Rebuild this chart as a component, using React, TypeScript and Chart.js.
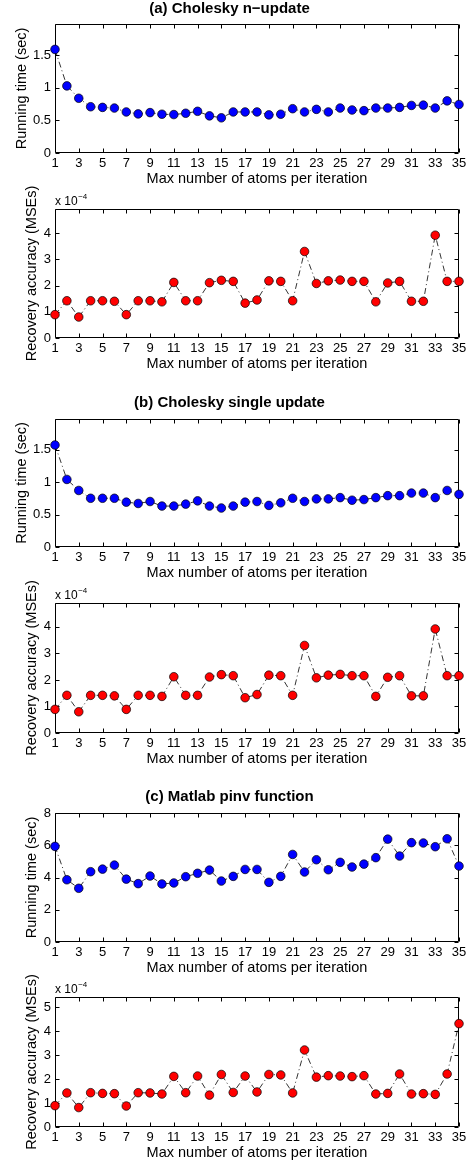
import React, { useEffect, useRef } from 'react';
import { Chart, registerables } from 'chart.js';

Chart.register(...registerables);

const FONT = '"Liberation Sans", Arial, Helvetica, sans-serif';

// ---------- data ----------
const atoms = [1, 2, 3, 4, 5, 6, 7, 8, 9, 10, 11, 12, 13, 14, 15, 16, 17, 18, 19, 20, 21, 22, 23, 24, 25, 26, 27, 28, 29, 30, 31, 32, 33, 34, 35];
const xTickValues = [1, 3, 5, 7, 9, 11, 13, 15, 17, 19, 21, 23, 25, 27, 29, 31, 33, 35];

const timeCholeskyN = [1.59, 1.03, 0.84, 0.71, 0.70, 0.69, 0.63, 0.60, 0.62, 0.595, 0.59, 0.61, 0.64, 0.57, 0.54, 0.63, 0.63, 0.63, 0.585, 0.595, 0.68, 0.63, 0.67, 0.63, 0.69, 0.66, 0.65, 0.69, 0.69, 0.70, 0.73, 0.735, 0.69, 0.80, 0.745];
const mseCholeskyN = [0.89, 1.42, 0.80, 1.42, 1.42, 1.40, 0.89, 1.42, 1.42, 1.38, 2.12, 1.42, 1.42, 2.11, 2.20, 2.16, 1.33, 1.45, 2.18, 2.16, 1.42, 3.30, 2.08, 2.18, 2.21, 2.16, 2.16, 1.38, 2.10, 2.16, 1.40, 1.40, 3.92, 2.16, 2.16];

const timeCholeskySingle = [1.57, 1.04, 0.87, 0.75, 0.75, 0.75, 0.69, 0.67, 0.70, 0.63, 0.63, 0.66, 0.71, 0.63, 0.60, 0.63, 0.69, 0.70, 0.64, 0.68, 0.75, 0.70, 0.74, 0.74, 0.76, 0.72, 0.73, 0.76, 0.79, 0.79, 0.83, 0.83, 0.76, 0.87, 0.81];
const mseCholeskySingle = [0.89, 1.42, 0.80, 1.42, 1.42, 1.40, 0.89, 1.42, 1.42, 1.38, 2.12, 1.42, 1.42, 2.11, 2.20, 2.16, 1.33, 1.45, 2.18, 2.16, 1.42, 3.30, 2.08, 2.18, 2.21, 2.16, 2.16, 1.38, 2.10, 2.16, 1.40, 1.40, 3.92, 2.16, 2.16];

const timePinv = [5.93, 3.86, 3.33, 4.36, 4.52, 4.77, 3.90, 3.62, 4.09, 3.60, 3.66, 4.05, 4.26, 4.46, 3.78, 4.07, 4.50, 4.50, 3.70, 4.07, 5.43, 4.34, 5.10, 4.48, 4.94, 4.65, 4.83, 5.23, 6.38, 5.33, 6.16, 6.14, 5.91, 6.40, 4.71];
const msePinv = [0.89, 1.42, 0.81, 1.43, 1.40, 1.39, 0.875, 1.43, 1.42, 1.375, 2.11, 1.43, 2.125, 1.33, 2.19, 1.44, 2.125, 1.46, 2.19, 2.17, 1.42, 3.21, 2.08, 2.14, 2.125, 2.10, 2.14, 1.375, 1.40, 2.21, 1.375, 1.39, 1.36, 2.21, 4.31];

const timeTicksCholesky = [0, 0.5, 1, 1.5];
const timeTicksPinv = [0, 2, 4, 6, 8];
const mseTicks = [0, 1, 2, 3, 4];
const mseTicksPinv = [0, 1, 2, 3, 4, 5];

const titles = ['(a) Cholesky n\u2212update', '(b) Cholesky single update', '(c) Matlab pinv function'];
const xLabel = 'Max number of atoms per iteration';
const yLabelTime = 'Running time (sec)';
const yLabelMse = 'Recovery accuracy (MSEs)';
const exponentBase = 'x 10';
const exponentPower = '\u22124';

// ---------- layout ----------
const W = 473;
const BOX_LEFT = 55;
const BOX_RIGHT = 459;
const X_AREA = 36;
const TOP_ROOM = 40;

type Spec = {
  top: number;
  bottom: number;
  titleY?: number;
  title?: string;
  yLabel: string;
  yMax: number;
  yTicks: number[];
  values: number[];
  color: string;
  exponent?: boolean;
  yTitleX: number;
};

const specs: Spec[] = [
  { top: 24, bottom: 153, titleY: 9, title: titles[0], yLabel: yLabelTime, yMax: 1.98, yTicks: timeTicksCholesky, values: timeCholeskyN, color: '#0000ff', yTitleX: 21.5 },
  { top: 209, bottom: 338, yLabel: yLabelMse, yMax: 4.92, yTicks: mseTicks, values: mseCholeskyN, color: '#ff0000', exponent: true, yTitleX: 31.5 },
  { top: 419, bottom: 547, titleY: 403, title: titles[1], yLabel: yLabelTime, yMax: 1.97, yTicks: timeTicksCholesky, values: timeCholeskySingle, color: '#0000ff', yTitleX: 21.5 },
  { top: 603, bottom: 733, yLabel: yLabelMse, yMax: 4.9, yTicks: mseTicks, values: mseCholeskySingle, color: '#ff0000', exponent: true, yTitleX: 31.5 },
  { top: 813, bottom: 942, titleY: 797, title: titles[2], yLabel: yLabelTime, yMax: 8, yTicks: timeTicksPinv, values: timePinv, color: '#0000ff', yTitleX: 31.5 },
  { top: 997, bottom: 1127, yLabel: yLabelMse, yMax: 5.42, yTicks: mseTicksPinv, values: msePinv, color: '#ff0000', exponent: true, yTitleX: 31.5 },
];

const boxPlugin = {
  id: 'matlabBox',
  beforeDatasetsDraw(chart: any) {
    const { ctx, chartArea } = chart;
    const xs = chart.scales.x;
    const ys = chart.scales.y;
    const L = Math.round(chartArea.left) + 0.5;
    const R = Math.round(chartArea.right) - 0.5;
    const T = Math.round(chartArea.top) + 0.5;
    const B = Math.round(chartArea.bottom) - 0.5;
    const tl = 4;
    ctx.save();
    ctx.strokeStyle = '#000';
    ctx.lineWidth = 1;
    ctx.beginPath();
    ctx.rect(L, T, R - L, B - T);
    xs.ticks.forEach((t: any) => {
      const px = Math.round(xs.getPixelForValue(t.value)) + 0.5;
      ctx.moveTo(px, B);
      ctx.lineTo(px, B - tl);
      ctx.moveTo(px, T);
      ctx.lineTo(px, T + tl);
    });
    ys.ticks.forEach((t: any) => {
      const py = Math.round(ys.getPixelForValue(t.value)) + 0.5;
      ctx.moveTo(L, py);
      ctx.lineTo(L + tl, py);
      ctx.moveTo(R, py);
      ctx.lineTo(R - tl, py);
    });
    ctx.stroke();
    ctx.restore();
  },
  afterDraw(chart: any) {
    const opts = chart.options.plugins.matlabBox;
    if (!opts || !opts.exponent) return;
    const { ctx, chartArea } = chart;
    ctx.save();
    ctx.fillStyle = '#000';
    ctx.textBaseline = 'alphabetic';
    ctx.textAlign = 'left';
    ctx.font = `12px ${FONT}`;
    const x0 = chartArea.left;
    const base = chartArea.top - 4;
    ctx.fillText(exponentBase, x0, base);
    const w = ctx.measureText(exponentBase).width;
    ctx.font = `8px ${FONT}`;
    ctx.fillText(exponentPower, x0 + w + 0.5, base - 6);
    ctx.restore();
  },
};

function Panel({ spec }: { spec: Spec }) {
  const ref = useRef<HTMLCanvasElement>(null);
  const canvasTop = Math.max(0, spec.top - TOP_ROOM);
  const height = spec.bottom + X_AREA - canvasTop;

  useEffect(() => {
    if (!ref.current) return;
    const boxTop = spec.top - canvasTop;
    let layoutTop = boxTop;
    let titleOpts: any = { display: false };
    if (spec.title && spec.titleY !== undefined) {
      const lh = 18;
      const center = spec.titleY - canvasTop;
      const padTop = center - lh / 2;
      const padBottom = boxTop - padTop - lh;
      layoutTop = 0;
      titleOpts = {
        display: true,
        text: spec.title,
        color: '#000',
        font: { family: FONT, size: 15, weight: 'bold', lineHeight: 1.2 },
        padding: { top: padTop, bottom: padBottom },
      };
    }
    const tickFont = { family: FONT, size: 13, lineHeight: 1.2 };
    const labelFont = { family: FONT, size: 14.5, lineHeight: 1.2 };
    const chart = new Chart(ref.current, {
      type: 'line',
      data: {
        datasets: [
          {
            data: atoms.map((x, i) => ({ x, y: spec.values[i] })),
            borderColor: '#000',
            borderWidth: 0.8,
            borderDash: [6, 3, 1, 3],
            pointRadius: 4.3,
            pointBorderWidth: 0.7,
            pointBorderColor: '#000',
            pointBackgroundColor: spec.color,
            pointStyle: 'circle',
            tension: 0,
            fill: false,
            clip: false,
          } as any,
        ],
      },
      options: {
        responsive: false,
        animation: false,
        devicePixelRatio: 1,
        events: [],
        layout: { padding: { top: layoutTop, left: 0, right: W - BOX_RIGHT, bottom: 0 } },
        plugins: {
          legend: { display: false },
          tooltip: { enabled: false },
          title: titleOpts,
          matlabBox: { exponent: !!spec.exponent },
        } as any,
        scales: {
          x: {
            type: 'linear',
            min: 1,
            max: 35,
            afterBuildTicks: (s: any) => {
              s.ticks = xTickValues.map((v) => ({ value: v }));
            },
            afterFit: (s: any) => {
              s.height = X_AREA;
            },
            grid: { display: false, drawTicks: false },
            border: { display: false },
            ticks: {
              padding: 2.5,
              color: '#000',
              font: tickFont,
              maxRotation: 0,
              autoSkip: false,
              callback: (v: any) => String(v),
            },
            title: {
              display: true,
              text: xLabel,
              color: '#000',
              font: labelFont,
              padding: { top: 0, bottom: 1.3 },
            },
          },
          y: {
            type: 'linear',
            min: 0,
            max: spec.yMax,
            afterBuildTicks: (s: any) => {
              s.ticks = spec.yTicks.map((v) => ({ value: v }));
            },
            afterFit: (s: any) => {
              s.width = BOX_LEFT;
            },
            grid: { display: false, drawTicks: false },
            border: { display: false },
            ticks: {
              padding: 4,
              color: '#000',
              font: tickFont,
              callback: (v: any) => String(v),
            },
            title: {
              display: true,
              text: spec.yLabel,
              color: '#000',
              font: labelFont,
              padding: { top: spec.yTitleX - 8.7, bottom: 0 },
            },
          },
        },
      } as any,
      plugins: [boxPlugin],
    });
    return () => chart.destroy();
  }, []);

  return (
    <canvas
      ref={ref}
      width={W}
      height={height}
      style={{ position: 'absolute', left: 0, top: canvasTop, width: W, height, display: 'block' }}
    />
  );
}

export default function App() {
  useEffect(() => {
    document.body.style.margin = '0';
  }, []);
  return (
    <div style={{ position: 'absolute', left: 0, top: 0, width: W, height: 1160, overflow: 'hidden', background: '#fff' }}>
      {specs.map((s, i) => (
        <Panel key={i} spec={s} />
      ))}
    </div>
  );
}
